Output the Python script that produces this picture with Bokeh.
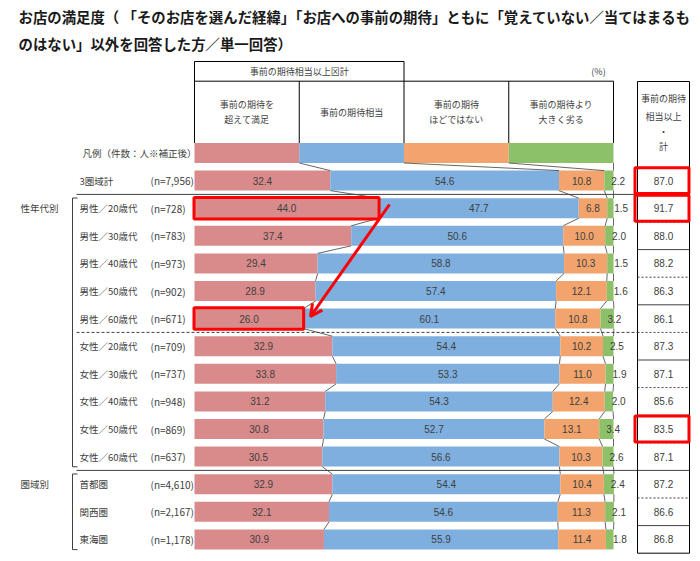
import numpy as np
from bokeh.plotting import figure
from bokeh.models import Range1d, Arrow, OpenHead
from bokeh.embed import file_html
from bokeh.resources import INLINE
from bokeh.core.properties import value

# ---------------- data ----------------
title_lines = [
    "お店の満足度（ 「そのお店を選んだ経緯」「お店への事前の期待」ともに「覚えていない／当てはまるも",
    "のはない」以外を回答した方／単一回答）",
]
group_header = "事前の期待相当以上⊠計"
series_headers = [
    ["事前の期待を", "超えて満足"],
    ["事前の期待相当"],
    ["事前の期待", "ほどではない"],
    ["事前の期待より", "大きく劣る"],
]
total_header = ["事前の期待", "相当以上", "・", "計"]
unit_label = "(%)"
legend_label = "凡例（件数：人※補正後）"
legend_share = [25, 25, 25, 25]

categories = [
    "3圏域計",
    "男性／20歳代", "男性／30歳代", "男性／40歳代", "男性／50歳代", "男性／60歳代",
    "女性／20歳代", "女性／30歳代", "女性／40歳代", "女性／50歳代", "女性／60歳代",
    "首都圏", "関西圏", "東海圏",
]
sample_sizes = [
    "(n=7,956)",
    "(n=728)", "(n=783)", "(n=973)", "(n=902)", "(n=671)",
    "(n=709)", "(n=737)", "(n=948)", "(n=869)", "(n=637)",
    "(n=4,610)", "(n=2,167)", "(n=1,178)",
]
exceeded = [32.4, 44.0, 37.4, 29.4, 28.9, 26.0, 32.9, 33.8, 31.2, 30.8, 30.5, 32.9, 32.1, 30.9]
as_expected = [54.6, 47.7, 50.6, 58.8, 57.4, 60.1, 54.4, 53.3, 54.3, 52.7, 56.6, 54.4, 54.6, 55.9]
below = [10.8, 6.8, 10.0, 10.3, 12.1, 10.8, 10.2, 11.0, 12.4, 13.1, 10.3, 10.4, 11.3, 11.4]
far_below = [2.2, 1.5, 2.0, 1.5, 1.6, 3.2, 2.5, 1.9, 2.0, 3.4, 2.6, 2.4, 2.1, 1.8]
total_at_least = [87.0, 91.7, 88.0, 88.2, 86.3, 86.1, 87.3, 87.1, 85.6, 83.5, 87.1, 87.2, 86.6, 86.8]

group_names = ["性年代別", "圏域別"]
group_rows = [(2, 11), (12, 14)]          # row numbers (1 = 3圏域計)
highlight_bar_rows = [2, 6]
highlight_total_rows = [1, 2, 10]

# ---------------- layout ----------------
W, HF, OFF = 700, 561, 0
XS, X0 = 4.19, 194.0      # px per percent, page x of 0 %
YS, Y0 = 27.6, 152.5      # px per row, page y of legend row


def px(x_page):
    return (x_page - X0) / XS


def py(y_page):
    return (y_page - Y0) / YS


p = figure(width=W, height=HF, output_backend="svg", toolbar_location=None,
           x_range=Range1d(px(OFF), px(OFF + W)),
           y_range=Range1d(py(OFF + HF), py(OFF)),
           x_axis_location=None, y_axis_location=None,
           min_border=0, outline_line_color=None)
p.grid.visible = False
p.background_fill_color = "white"

JP = value("Noto Sans CJK JP")
NUM = value("Liberation Sans")
TXT = "#404040"
colors = ["#D98B8B", "#7EAFDE", "#F2A46C", "#8CC169"]
BH = 0.725

# title
for i, t in enumerate(title_lines):
    p.text(x=[px(18)], y=[py([16, 43][i])], text=[t], text_font=JP, text_font_size="14.4px",
           text_font_style="bold", text_color="#1a1a1a", text_align="left", text_baseline="middle")

# header grid
leg_cum = np.concatenate([[0], np.cumsum(legend_share)])
p.segment(x0=[leg_cum[0]], y0=[py(80.7)], x1=[leg_cum[-1]], y1=[py(80.7)], line_color="black", line_width=1)
p.segment(x0=[leg_cum[0], leg_cum[0]], y0=[py(61), py(61)], x1=[leg_cum[0], leg_cum[2]], y1=[py(80.7), py(61)],
          line_color="black", line_width=1)
p.segment(x0=[leg_cum[2]], y0=[py(61)], x1=[leg_cum[2]], y1=[py(80.7)], line_color="black", line_width=1)
p.segment(x0=list(leg_cum), y0=[py(80.7)] * 5, x1=list(leg_cum), y1=[0 - BH / 2] * 5,
          line_color="black", line_width=1)
p.text(x=[leg_cum[1]], y=[py(71)], text=[group_header], text_font=JP, text_font_size="9px",
       text_color=TXT, text_align="center", text_baseline="middle")
p.text(x=[px(598)], y=[py(71)], text=[unit_label], text_font=JP, text_font_size="9px",
       text_color=TXT, text_align="center", text_baseline="middle")
for k, lines in enumerate(series_headers):
    cx = (leg_cum[k] + leg_cum[k + 1]) / 2
    n = len(lines)
    for j, t in enumerate(lines):
        yy = 111.5 + (j - (n - 1) / 2) * 15
        p.text(x=[cx], y=[py(yy)], text=[t], text_font=JP, text_font_size="9px",
               text_color=TXT, text_align="center", text_baseline="middle")

# legend bar row
for k in range(4):
    p.hbar(y=[0], left=[leg_cum[k]], right=[leg_cum[k + 1]], height=BH, fill_color=colors[k], line_color=None)
p.text(x=[px(82)], y=[0], text=[legend_label], text_font=JP, text_font_size="9.5px",
       text_color=TXT, text_align="left", text_baseline="middle")

# data bars
series = np.array([exceeded, as_expected, below, far_below]).T
cum = np.cumsum(series, axis=1)
starts = cum - series
rows = np.arange(1, len(categories) + 1)
for k in range(4):
    p.hbar(y=rows, left=starts[:, k], right=cum[:, k], height=BH, fill_color=colors[k], line_color=None)

# connector lines
full_cum = np.vstack([leg_cum[1:], cum])
x0s, y0s, x1s, y1s = [], [], [], []
for i in range(len(full_cum) - 1):
    for b in range(4):
        x0s.append(full_cum[i, b]); y0s.append(i + BH / 2)
        x1s.append(full_cum[i + 1, b]); y1s.append(i + 1 - BH / 2)
p.segment(x0=x0s, y0=y0s, x1=x1s, y1=y1s, line_color="#404040", line_width=0.8)

# value labels
for k in range(3):
    p.text(x=(starts[:, k] + cum[:, k]) / 2, y=rows, text=[f"{v:.1f}" for v in series[:, k]],
           text_font=NUM, text_font_size="10px", text_color=TXT, text_align="center", text_baseline="middle")
p.text(x=starts[:, 3], y=rows, text=[f"{v:.1f}" for v in series[:, 3]], x_offset=7,
       text_font=NUM, text_font_size="10px", text_color=TXT, text_align="left", text_baseline="middle")

# row labels
p.text(x=[px(79)] * len(rows), y=rows, text=categories, text_font=JP, text_font_size="9.5px",
       text_color=TXT, text_align="left", text_baseline="middle")
p.text(x=[px(150)] * len(rows), y=rows, text=sample_sizes, text_font=JP, text_font_size="10px",
       text_color=TXT, text_align="left", text_baseline="middle")

# group brackets and labels
for name, (r0, r1) in zip(group_names, group_rows):
    top, bot = r0 - 0.37, r1 + 0.37
    p.segment(x0=[px(72), px(72), px(72)], y0=[top, top, bot], x1=[px(72), px(77), px(77)], y1=[bot, top, bot],
              line_color="#404040", line_width=1)
    p.text(x=[px(20)], y=[r0], text=[name], text_font=JP, text_font_size="9.5px",
           text_color=TXT, text_align="left", text_baseline="middle")

# long separators
p.segment(x0=[px(76), px(76)], y0=[1.5, 11.5], x1=[px(637), px(637)], y1=[1.5, 11.5],
          line_color="#404040", line_width=1)
p.segment(x0=[px(76)], y0=[6.5], x1=[px(637)], y1=[6.5], line_color="#404040", line_width=1, line_dash="3 2")

# right column (total)
RL, RR = px(637), px(689)
p.segment(x0=[RL, RR, RL, RL], y0=[py(81), py(81), py(81), len(rows) + 0.5],
          x1=[RL, RR, RR, RR], y1=[len(rows) + 0.5, len(rows) + 0.5, py(81), len(rows) + 0.5],
          line_color="black", line_width=1)
sep_solid = [r + 0.5 for r in range(1, len(rows)) if r % 2 == 1]
sep_dash = [r + 0.5 for r in range(1, len(rows)) if r % 2 == 0]
p.segment(x0=[RL] * len(sep_solid), y0=sep_solid, x1=[RR] * len(sep_solid), y1=sep_solid,
          line_color="#404040", line_width=1)
p.segment(x0=[RL] * len(sep_dash), y0=sep_dash, x1=[RR] * len(sep_dash), y1=sep_dash,
          line_color="#404040", line_width=1, line_dash="2 2")
for j, (t, yy) in enumerate(zip(total_header, [98, 116, 131, 146])):
    p.text(x=[px(663)], y=[py(yy)], text=[t], text_font=JP, text_font_size="9px",
           text_color=TXT, text_align="center", text_baseline="middle")
p.text(x=[px(663)] * len(rows), y=rows, text=[f"{v:.1f}" for v in total_at_least],
       text_font=NUM, text_font_size="10px", text_color=TXT, text_align="center", text_baseline="middle")

# highlights
RED = "#FF0000"
p.quad(left=[px(634.5)] * len(highlight_total_rows), right=[px(688.5)] * len(highlight_total_rows),
       top=[r - 0.47 for r in highlight_total_rows], bottom=[r + 0.47 for r in highlight_total_rows],
       fill_color=None, line_color=RED, line_width=3)
p.quad(left=[px(193.5)] * len(highlight_bar_rows), right=[exceeded[r - 1] + 0.05 for r in highlight_bar_rows],
       top=[r - 0.39 for r in highlight_bar_rows], bottom=[r + 0.39 for r in highlight_bar_rows],
       fill_color=None, line_color=RED, line_width=3)
p.add_layout(Arrow(end=OpenHead(size=12, line_color=RED, line_width=3),
                   x_start=px(389), y_start=py(204), x_end=px(310), y_end=py(316),
                   line_color=RED, line_width=3))

open("out.html", "w").write(file_html(p, INLINE))
